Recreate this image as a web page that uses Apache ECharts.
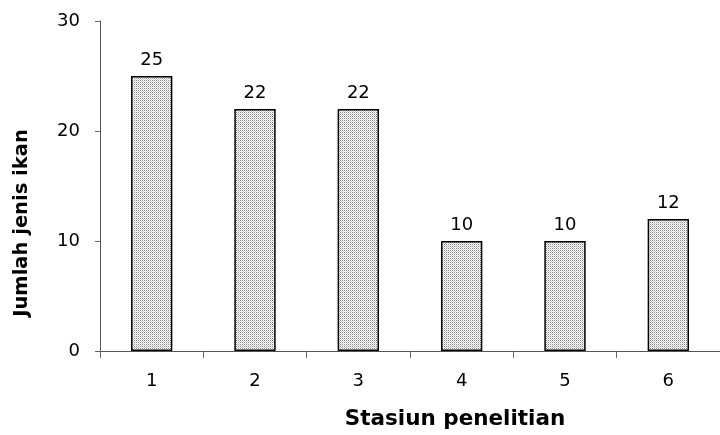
<!DOCTYPE html>
<html>
<head>
<meta charset="utf-8">
<script src="https://cdn.jsdelivr.net/npm/echarts@6/dist/echarts.min.js"></script>
<style>
html,body{margin:0;padding:0;background:#fff;overflow:hidden;}
#chart{width:720px;height:435px;}
</style>
</head>
<body>
<div id="chart"></div>
<script>
const stations = ['1', '2', '3', '4', '5', '6'];
const speciesCount = [25, 22, 22, 10, 10, 12];
const yTicks = [0, 10, 20, 30];

// fine stippled fill for the bars
function stipple() {
  const c = document.createElement('canvas');
  c.width = 2; c.height = 2;
  const g = c.getContext('2d');
  g.fillStyle = '#ffffff';
  g.fillRect(0, 0, 2, 2);
  g.fillStyle = '#8a8a8a';
  g.fillRect(0, 0, 1, 1);
  g.fillStyle = '#d0d0d0';
  g.fillRect(1, 1, 1, 1);
  return c;
}

const chart = echarts.init(document.getElementById('chart'), null, {renderer: 'canvas'});
const font = 'DejaVu Sans, Arial, sans-serif';
chart.setOption({
  animation: false,
  grid: {left: 100, width: 626, top: 21, bottom: 82, containLabel: false},
  xAxis: {
    type: 'category',
    data: stations,
    name: 'Stasiun penelitian',
    nameLocation: 'middle',
    nameGap: 57,
    nameTextStyle: {fontFamily: font, fontSize: 21.5, fontWeight: 'bold', color: '#000', padding: [0, 0, 0, 90]},
    axisLine: {lineStyle: {color: '#555', width: 1}},
    axisTick: {show: true, length: 7, lineStyle: {color: '#666'}},
    axisLabel: {fontFamily: font, fontSize: 18, color: '#000', margin: 21},
    splitLine: {show: false}
  },
  yAxis: {
    type: 'value',
    min: yTicks[0],
    max: yTicks[yTicks.length - 1],
    interval: 10,
    name: 'Jumlah jenis ikan',
    nameLocation: 'middle',
    nameGap: 68,
    nameTextStyle: {fontFamily: font, fontSize: 19.5, fontWeight: 'bold', color: '#000', padding: [0, 74, 0, 0]},
    axisLine: {show: true, lineStyle: {color: '#555', width: 1}},
    axisTick: {show: true, length: 5, lineStyle: {color: '#666'}},
    axisLabel: {fontFamily: font, fontSize: 18, color: '#000', margin: 20},
    splitLine: {show: false}
  },
  series: [{
    type: 'bar',
    data: speciesCount,
    barWidth: '40%',
    itemStyle: {
      color: {image: stipple(), repeat: 'repeat'},
      borderColor: '#000',
      borderWidth: 1.5
    },
    label: {
      show: true,
      position: 'top',
      distance: 7,
      fontFamily: font,
      fontSize: 18,
      color: '#000'
    }
  }]
});
</script>
</body>
</html>
